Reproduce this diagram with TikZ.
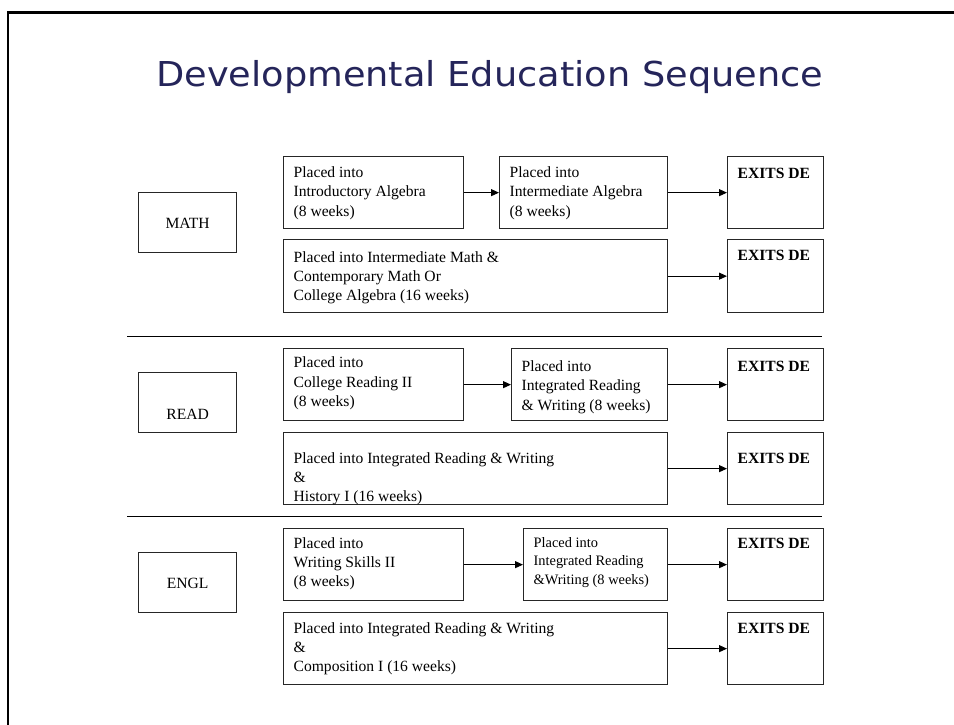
\documentclass[tikz,border=0pt]{standalone}
\usepackage{fontspec}
\setmainfont{Liberation Serif}
\newfontfamily\titlefont{DejaVu Sans}
\usetikzlibrary{arrows.meta}
\definecolor{titleblue}{HTML}{25255A}
\definecolor{boxline}{HTML}{262626}
% box content: width, height, first-baseline offset, text
\newcommand\bx[4]{\parbox[c][#2][t]{#1}{\raggedright\leftskip=10pt\vspace*{\dimexpr#3-\ht\strutbox\relax}\strut#4}}
\newcommand\bxc[4]{\parbox[c][#2][t]{#1}{\centering\vspace*{\dimexpr#3-\ht\strutbox\relax}\strut#4}}
\tikzset{
  box/.style={draw=boxline, line width=1.3pt, inner sep=0pt, anchor=north west,
    font=\fontsize{15.6}{19.2}\selectfont},
  smallbox/.style={box, font=\fontsize{14.4}{18.3}\selectfont},
  arr/.style={line width=1pt, -{Triangle[length=8pt,width=7pt]}},
  sep/.style={line width=1pt},
  frame/.style={line width=2.2pt}
}
\begin{document}
\begin{tikzpicture}[x=1pt,y=-1pt]
\useasboundingbox (0,0) rectangle (954,725);
\fill[white] (0,0) rectangle (954,725);
\draw[frame] (960,12.5) -- (8,12.5) -- (8,730);

\node[anchor=base west, inner sep=0pt, text=titleblue] (title) at (156,86)
  {\resizebox{667pt}{\height}{\titlefont\fontsize{34.3}{40}\selectfont Developmental Education Sequence}};

% MATH
\node[box] (math) at (138,192) {\bxc{98pt}{60pt}{36.3pt}{MATH}};
\node[box] (m1) at (283,156) {\bx{180pt}{72pt}{21pt}{Placed into\\Introductory Algebra\\(8 weeks)}};
\node[box] (m2) at (499,156) {\bx{168pt}{72pt}{21pt}{Placed into\\Intermediate Algebra\\(8 weeks)}};
\node[box] (mx1) at (727,156) {\bx{96pt}{72pt}{21.5pt}{\textbf{EXITS DE}}};
\node[box] (m3) at (283,239) {\bx{384pt}{73pt}{22.5pt}{Placed into Intermediate Math \&\\Contemporary Math Or\\College Algebra (16 weeks)}};
\node[box] (mx2) at (727,239) {\bx{96pt}{73pt}{21pt}{\textbf{EXITS DE}}};
\draw[arr] (m1.east) -- (m2.west);
\draw[arr] (m2.east) -- (mx1.west);
\draw[arr] (m3.east) -- (mx2.west);

\coordinate (s1a) at (127,336);
\coordinate (s1b) at (822,336);
\draw[sep] (s1a) -- (s1b);

% READ
\node[box] (read) at (138,372) {\bxc{98pt}{60pt}{47pt}{READ}};
\node[box] (r1) at (283,348) {\bx{180pt}{72pt}{19.3pt}{Placed into\\College Reading II\\(8 weeks)}};
\node[box] (r2) at (511,348) {\bx{156pt}{72pt}{23pt}{Placed into\\Integrated Reading\\\& Writing (8 weeks)}};
\node[box] (rx1) at (727,348) {\bx{96pt}{72pt}{23pt}{\textbf{EXITS DE}}};
\node[box] (r3) at (283,432) {\bx{384pt}{72pt}{30.7pt}{Placed into Integrated Reading \& Writing\\\&\\History I (16 weeks)}};
\node[box] (rx2) at (727,432) {\bx{96pt}{72pt}{30.8pt}{\textbf{EXITS DE}}};
\draw[arr] (r1.east) -- (r2.west);
\draw[arr] (r2.east) -- (rx1.west);
\draw[arr] (r3.east) -- (rx2.west);

\coordinate (s2a) at (127,516);
\coordinate (s2b) at (822,516);
\draw[sep] (s2a) -- (s2b);

% ENGL
\node[box] (engl) at (138,552) {\bxc{98pt}{60pt}{36pt}{ENGL}};
\node[box] (e1) at (283,528) {\bx{180pt}{72pt}{19.7pt}{Placed into\\Writing Skills II\\(8 weeks)}};
\node[smallbox] (e2) at (523,528) {\bx{144pt}{72pt}{18.8pt}{Placed into\\Integrated Reading\\\&Writing (8 weeks)}};
\node[box] (ex1) at (727,528) {\bx{96pt}{72pt}{19.8pt}{\textbf{EXITS DE}}};
\node[box] (e3) at (283,612) {\bx{384pt}{72pt}{20.7pt}{Placed into Integrated Reading \& Writing\\\&\\Composition I (16 weeks)}};
\node[box] (ex2) at (727,612) {\bx{96pt}{72pt}{20.8pt}{\textbf{EXITS DE}}};
\draw[arr] (e1.east) -- (e2.west);
\draw[arr] (e2.east) -- (ex1.west);
\draw[arr] (e3.east) -- (ex2.west);
\end{tikzpicture}
\end{document}
